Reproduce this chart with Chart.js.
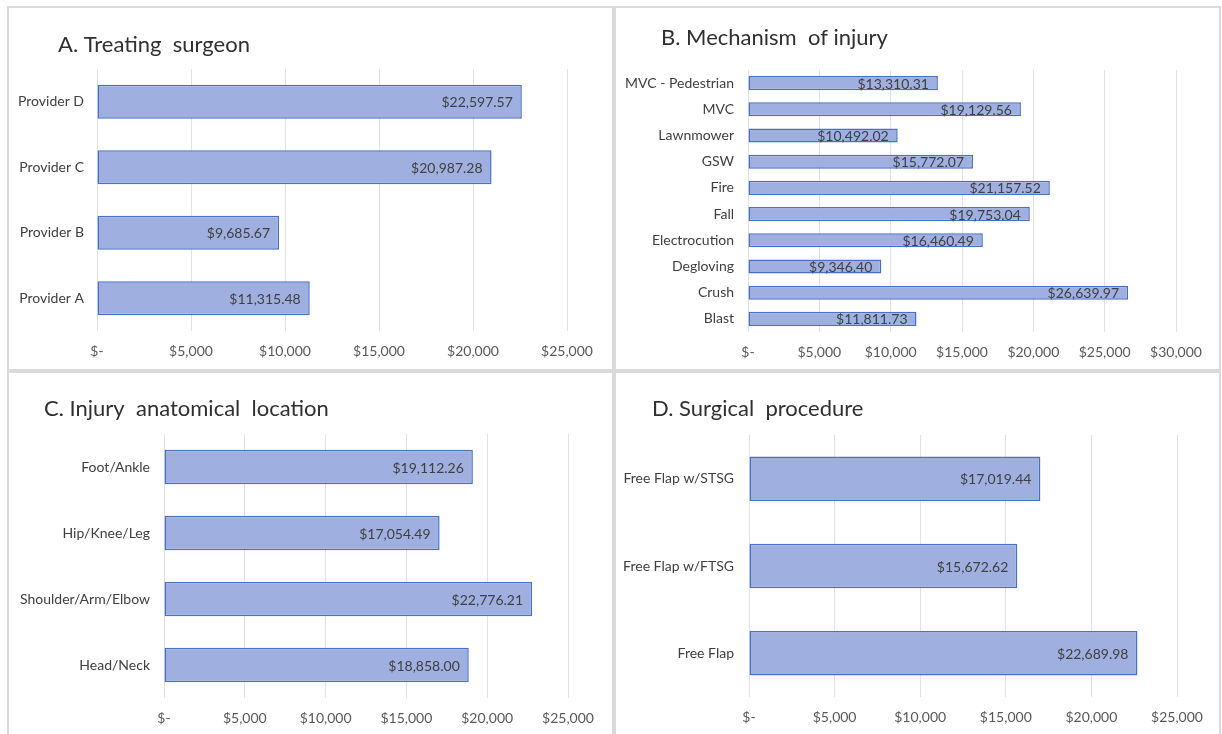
<!DOCTYPE html>
<html lang="en">
<head>
  <meta charset="UTF-8" />
  <title>Cost by category</title>
  <script src="https://cdn.jsdelivr.net/npm/chart.js@4/dist/chart.umd.min.js"></script>
  <style>
    html, body { margin: 0; padding: 0; background: #fff; }
    body { width: 1222px; height: 734px; position: relative; overflow: hidden; }
    .panel { position: absolute; box-sizing: border-box; border: 2px solid #dadada; background: #fff; }
    .panel canvas { display: block; }
  </style>
</head>
<body>
  <div class="panel" style="left:7px; top:6px; width:607px; height:365px;"><canvas id="chartA"></canvas></div>
  <div class="panel" style="left:614px; top:6px; width:607px; height:365px;"><canvas id="chartB"></canvas></div>
  <div class="panel" style="left:7px; top:371px; width:607px; height:365px;"><canvas id="chartC"></canvas></div>
  <div class="panel" style="left:614px; top:371px; width:607px; height:365px;"><canvas id="chartD"></canvas></div>

  <script>
    // A. Treating surgeon (listed bottom -> top, like Excel)
    const surgeonLabels = ['Provider A', 'Provider B', 'Provider C', 'Provider D'];
    const surgeonCost = [11315.48, 9685.67, 20987.28, 22597.57];

    // B. Mechanism of injury
    const mechanismLabels = ['Blast', 'Crush', 'Degloving', 'Electrocution', 'Fall', 'Fire',
                             'GSW', 'Lawnmower', 'MVC', 'MVC - Pedestrian'];
    const mechanismCost = [11811.73, 26639.97, 9346.40, 16460.49, 19753.04, 21157.52,
                           15772.07, 10492.02, 19129.56, 13310.31];

    // C. Injury anatomical location
    const locationLabels = ['Head/Neck', 'Shoulder/Arm/Elbow', 'Hip/Knee/Leg', 'Foot/Ankle'];
    const locationCost = [18858.00, 22776.21, 17054.49, 19112.26];

    // D. Surgical procedure
    const procedureLabels = ['Free Flap', 'Free Flap w/FTSG', 'Free Flap w/STSG'];
    const procedureCost = [22689.98, 15672.62, 17019.44];

    // x axis tick labels
    const ticks25k = ['$-', '$5,000', '$10,000', '$15,000', '$20,000', '$25,000'];
    const ticks30k = ['$-', '$5,000', '$10,000', '$15,000', '$20,000', '$25,000', '$30,000'];

    const FONT = 'Lato, "Open Sans", sans-serif';
    Chart.defaults.font.family = FONT;
    Chart.defaults.color = '#404040';

    const money = v => '$' + v.toLocaleString('en-US', { minimumFractionDigits: 2, maximumFractionDigits: 2 });

    // value inside the end of each bar
    const valueLabels = {
      id: 'valueLabels',
      afterDatasetsDraw(chart) {
        const ctx = chart.ctx;
        const meta = chart.getDatasetMeta(0);
        const vals = chart.data.datasets[0].data;
        ctx.save();
        ctx.font = '14px ' + FONT;
        ctx.fillStyle = '#404040';
        ctx.textAlign = 'right';
        ctx.textBaseline = 'middle';
        meta.data.forEach((bar, i) => {
          ctx.fillText(money(vals[i]), bar.x - 9, bar.y + 1);
        });
        ctx.restore();
      }
    };

    // panel title, placed freely (Chart.js title can't be offset sideways)
    const panelTitle = {
      id: 'panelTitle',
      afterDraw(chart, args, opts) {
        const ctx = chart.ctx;
        ctx.save();
        ctx.font = '22px ' + FONT;
        ctx.fillStyle = '#303030';
        ctx.textAlign = 'left';
        ctx.textBaseline = 'middle';
        ctx.fillText(opts.text, opts.x, opts.y);
        ctx.restore();
      }
    };

    function makeChart(id, title, labels, values, o) {
      const ctx = document.getElementById(id).getContext('2d');
      const tickText = o.ticks;
      return new Chart(ctx, {
        type: 'bar',
        data: {
          labels: labels,
          datasets: [{
            data: values,
            backgroundColor: '#9fafdf',
            borderColor: '#4870c6',
            borderWidth: 1.5,
            borderSkipped: false,
            barPercentage: o.barPct,
            categoryPercentage: 1
          }]
        },
        plugins: [valueLabels, panelTitle],
        options: {
          indexAxis: 'y',
          responsive: true,
          maintainAspectRatio: false,
          animation: false,
          devicePixelRatio: 1,
          layout: {
            padding: { left: 0, right: o.padRight, top: o.plotTop, bottom: 0 }
          },
          plugins: {
            legend: { display: false },
            tooltip: { enabled: false },
            title: { display: false },
            panelTitle: { text: title, x: o.titleX, y: o.titleY }
          },
          scales: {
            x: {
              min: 0,
              max: (tickText.length - 1) * 5000,
              ticks: {
                stepSize: 5000,
                padding: 12,
                color: '#595959',
                font: { size: 14 },
                maxRotation: 0,
                callback: (v, i) => tickText[i]
              },
              grid: { color: '#e2e2e2', drawTicks: false },
              border: { display: false },
              afterFit: s => { s.height = o.axisHeight; }
            },
            y: {
              reverse: true,
              ticks: { padding: o.labelGap, color: '#404040', font: { size: 14 } },
              grid: { display: false, drawTicks: false },
              border: { display: false },
              afterFit: s => { s.width = o.plotLeft; }
            }
          }
        }
      });
    }

    makeChart('chartA', 'A. Treating  surgeon', surgeonLabels, surgeonCost, {
      ticks: ticks25k, plotLeft: 88, padRight: 45, plotTop: 61, labelGap: 13,
      titleX: 49, titleY: 37, axisHeight: 38, barPct: 0.52
    });

    makeChart('chartB', 'B. Mechanism  of injury', mechanismLabels, mechanismCost, {
      ticks: ticks30k, plotLeft: 132, padRight: 43, plotTop: 62, labelGap: 14,
      titleX: 45, titleY: 30, axisHeight: 37, barPct: 0.54
    });

    makeChart('chartC', 'C. Injury  anatomical  location', locationLabels, locationCost, {
      ticks: ticks25k, plotLeft: 155, padRight: 44, plotTop: 61, labelGap: 14,
      titleX: 35, titleY: 36, axisHeight: 36, barPct: 0.52
    });

    makeChart('chartD', 'D. Surgical  procedure', procedureLabels, procedureCost, {
      ticks: ticks25k, plotLeft: 133, padRight: 42, plotTop: 62, labelGap: 15,
      titleX: 36, titleY: 36, axisHeight: 37, barPct: 0.51
    });
  </script>
</body>
</html>
